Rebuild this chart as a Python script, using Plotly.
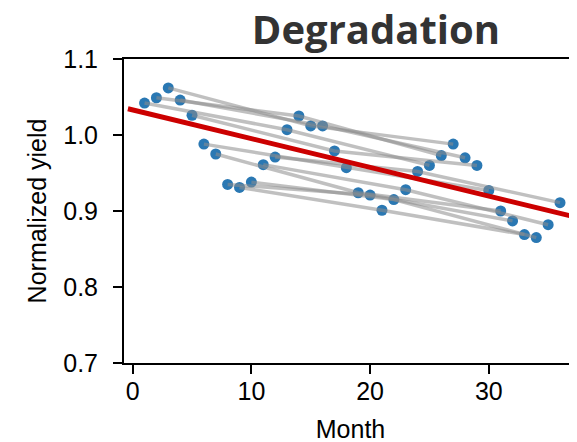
import plotly.graph_objects as go

months = list(range(1, 37))
yields = [1.042, 1.049, 1.062, 1.046, 1.026, 0.988, 0.975, 0.935, 0.931, 0.938, 0.961, 0.971,
          1.007, 1.025, 1.012, 1.012, 0.979, 0.957, 0.924, 0.921, 0.901, 0.915, 0.928, 0.952,
          0.960, 0.973, 0.988, 0.970, 0.960, 0.927, 0.900, 0.887, 0.869, 0.865, 0.882, 0.911]
trend_x = [-0.4, 38.0]
trend_intercept = 1.033
trend_slope = -0.00378

fig = go.Figure()

# markers
fig.add_trace(go.Scatter(x=months, y=yields, mode="markers",
                         marker=dict(size=11, color="#2a78b3", line=dict(width=0)),
                         showlegend=False, hoverinfo="skip"))

# grey lines connecting same calendar month across years
for m in range(12):
    xs = months[m::12]
    ys = yields[m::12]
    fig.add_trace(go.Scatter(x=xs, y=ys, mode="lines",
                             line=dict(color="rgba(140,140,140,0.55)", width=3.5),
                             showlegend=False, hoverinfo="skip"))

# regression line
ty = [trend_intercept + trend_slope * t for t in trend_x]
fig.add_trace(go.Scatter(x=trend_x, y=ty, mode="lines",
                         line=dict(color="#cc0000", width=5),
                         showlegend=False, hoverinfo="skip"))

# note: the page body has an 8px margin, so figure coords = screen coords - 8
fig.update_layout(
    width=577, height=442,
    margin=dict(l=116, r=8, t=51, b=87, autoexpand=False),
    paper_bgcolor="white", plot_bgcolor="white",
    font=dict(family="Liberation Sans, Arial, sans-serif", color="black"),
    title=dict(text="<b>Degradation</b>", x=368/577, xanchor="center",
               y=1 - 22/442, yanchor="middle",
               font=dict(family="Open Sans", size=40, color="#333333")),
    xaxis=dict(range=[-0.73, 37.43], tickvals=[0, 10, 20, 30], showgrid=False, zeroline=False,
               showline=True, linecolor="black", linewidth=2, mirror=True,
               ticks="outside", ticklen=9, tickwidth=2, tickcolor="black",
               tickfont=dict(size=25), automargin=False, ticklabelstandoff=-4,
               title=dict(text="Month", font=dict(size=25), standoff=16)),
    yaxis=dict(range=[0.7, 1.1], tickvals=[0.7, 0.8, 0.9, 1.0, 1.1], tickformat=".1f",
               showgrid=False, zeroline=False,
               showline=True, linecolor="black", linewidth=2, mirror=False,
               ticks="outside", ticklen=9, tickwidth=2, tickcolor="black",
               tickfont=dict(size=25), automargin=False, ticklabelstandoff=10,
               title=dict(text="Normalized yield", font=dict(size=25), standoff=9)),
)

fig.write_html("out.html")
